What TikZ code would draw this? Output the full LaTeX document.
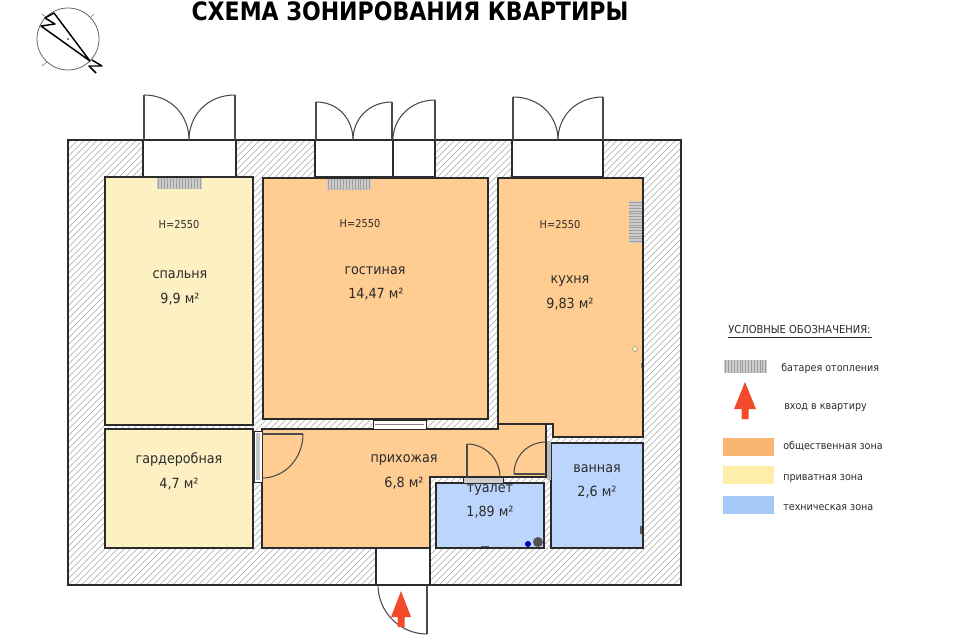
\documentclass[tikz,border=0pt]{standalone}
\usepackage{fontspec}
\setmainfont[FakeStretch=0.91]{DejaVu Sans}
\newfontfamily\titlefont[FakeStretch=0.87]{DejaVu Sans}
\usetikzlibrary{arrows.meta}
\definecolor{pub}{HTML}{FFCC91}
\definecolor{pri}{HTML}{FDF0C3}
\definecolor{tec}{HTML}{BBD5FD}
\definecolor{swpub}{HTML}{FBB573}
\definecolor{swpri}{HTML}{FFEEAA}
\definecolor{swtec}{HTML}{A4C8F7}
\definecolor{arr}{HTML}{F44A2C}
\definecolor{ink}{HTML}{2B2B2B}
\tikzset{
  x=0.75pt,y=-0.75pt,
  room/.style={draw=ink,line width=1.1pt},
  leaf/.style={draw=ink!85,line width=0.8pt},
  lab/.style={font=\fontsize{10.5pt}{12pt}\selectfont,text=ink,inner sep=0pt,anchor=base},
  small/.style={font=\fontsize{8.1pt}{9pt}\selectfont,text=ink,inner sep=0pt,anchor=base},
  leg/.style={font=\fontsize{7.9pt}{9pt}\selectfont,text=ink,inner sep=0pt,anchor=base west},
}
\newcommand{\vrad}[4]{\fill[gray!40] (#1,#2) rectangle (#3,#4);
  \foreach \k in {0,...,14}{\draw[gray!75,line width=0.35pt] ({#1+1.5+\k*(#3-#1-3)/14},#2) -- ({#1+1.5+\k*(#3-#1-3)/14},#4);}}
\newcommand{\hrad}[4]{\fill[gray!40] (#1,#2) rectangle (#3,#4);
  \foreach \k in {0,...,14}{\draw[gray!75,line width=0.35pt] (#1,{#2+1.5+\k*(#4-#2-3)/14}) -- (#3,{#2+1.5+\k*(#4-#2-3)/14});}}
\newcommand{\upar}[4]{\fill[arr] (#1,#2) -- ({#1+#3},#4) -- ({#1+3.5},#4) -- ({#1+3.5},{#4+10}) -- ({#1-3.5},{#4+10}) -- ({#1-3.5},#4) -- ({#1-#3},#4) -- cycle;}
\begin{document}
\begin{tikzpicture}
\useasboundingbox (0,0) rectangle (960,640);
\fill[white] (0,0) rectangle (960,640);
% wall hatching
\begin{scope}
\clip (68,140) rectangle (681,585);
\foreach \k in {0,...,170}{\draw[gray!70,line width=0.35pt] ({\k*6.5-380},585) -- ({\k*6.5-380+445},140);}
\end{scope}
\draw[draw=ink,line width=1.1pt] (68,140) rectangle (681,585);
% openings
\foreach \a/\b in {143/236,315/435,512/603}{\draw[fill=white,draw=ink,line width=0.9pt] (\a,140) rectangle (\b,177);}
\draw[ink,line width=0.9pt] (393,140) -- (393,177);
\draw[fill=white,draw=ink,line width=0.9pt] (376,548) rectangle (430,585);
% rooms
\draw[room,fill=pri] (105,177) rectangle (253,425);
\draw[room,fill=pri] (105,429) rectangle (253,548);
\draw[room,fill=pub] (263,178) rectangle (488,419);
\draw[room,fill=pub] (498,178) -- (643,178) -- (643,437) -- (553,437) -- (553,424) -- (498,424) -- cycle;
\draw[room,fill=pub] (262,429) -- (498,429) -- (498,424) -- (546,424) -- (546,477) -- (430,477) -- (430,548) -- (262,548) -- cycle;
\draw[room,fill=tec] (436,483) rectangle (544,548);
\draw[room,fill=tec] (551,443) rectangle (643,548);
% garderobe door
\draw[fill=white,draw=ink,line width=0.7pt] (254,431) rectangle (262,482);
\fill[gray!45] (256,433) rectangle (260,480);
\draw[leaf] (262,434) -- (303,434);
\draw[leaf] (303,434) .. controls (303,458) and (285,478) .. (262,478);
% window living/hall
\draw[fill=white,draw=ink,line width=0.7pt] (373,420) rectangle (426,429);
\draw[gray,line width=0.7pt] (375,424.5) -- (424,424.5);
% toilet door
\draw[fill=gray!40,draw=ink,line width=0.7pt] (463,477) rectangle (503,483);
\draw[leaf] (467,477) -- (467,444);
\draw[leaf] (467,444) .. controls (485,444) and (500,459) .. (500,477);
% bath door
\fill[gray!55] (546.5,441) rectangle (550.5,480);
\draw[leaf] (546,474) -- (514,474);
\draw[leaf] (514,474) .. controls (514,456) and (528,442) .. (546,442);
% exterior doors
\foreach \l/\m/\r/\t in {144/189/235/95,316/353/392/102,513/558/603/97}{
  \draw[leaf] (\l,140) -- (\l,\t);
  \draw[leaf] (\r,140) -- (\r,\t);
  \draw[leaf] (\l,\t) .. controls ({\l+(\m-\l)*0.6},\t) and (\m,{\t+(140-\t)*0.45}) .. (\m,140);
  \draw[leaf] (\r,\t) .. controls ({\r-(\r-\m)*0.6},\t) and (\m,{\t+(140-\t)*0.45}) .. (\m,140);
}
\draw[leaf] (435,140) -- (435,100);
\draw[leaf] (435,100) .. controls (411,100) and (393,118) .. (393,140);
% entrance door
\draw[leaf] (427,585) -- (427,634);
\draw[leaf] (378,585) .. controls (378,612) and (400,634) .. (427,634);
\upar{401}{591}{10}{617}
% radiators
\vrad{157}{178}{202}{189}
\vrad{327}{179}{371}{190}
\hrad{629}{201}{642}{243}
% fixtures
\fill[gray!70!black] (640,526) rectangle (641.5,534);
\draw[fill=pri,draw=gray,line width=0.3pt] (635,349) circle[radius=2.5];
\fill[gray] (640.5,363) rectangle (642,368);
\fill[blue!70!black] (528,544) circle[radius=3];
\fill[gray!65!black] (538,542) circle[radius=5];
\draw[gray!70!black,line width=0.7pt] (481,546) -- (489,546);
% labels
\node[font=\titlefont\bfseries\fontsize{19pt}{22pt}\selectfont,text=black,inner sep=0pt,anchor=base] (title) at (410,20) {СХЕМА ЗОНИРОВАНИЯ КВАРТИРЫ};
\node[small] (h1) at (179,228) {H=2550};
\node[small] (h2) at (360,227) {H=2550};
\node[small] (h3) at (560,228) {H=2550};
\node[lab] (r1) at (180,278) {спальня};
\node[lab] (a1) at (180,303) {9,9 м²};
\node[lab] (r2) at (375,274) {гостиная};
\node[lab] (a2) at (376,298) {14,47 м²};
\node[lab] (r3) at (570,283) {кухня};
\node[lab] (a3) at (570,308) {9,83 м²};
\node[lab] (r4) at (179,463) {гардеробная};
\node[lab] (a4) at (179,488) {4,7 м²};
\node[lab] (r5) at (404,462) {прихожая};
\node[lab] (a5) at (404,487) {6,8 м²};
\begin{scope}
\clip (436,483.5) rectangle (544,548);
\node[lab] (r6) at (490,492) {туалет};
\end{scope}
\node[lab] (a6) at (490,516) {1,89 м²};
\node[lab] (r7) at (597,472) {ванная};
\node[lab] (a7) at (597,496) {2,6 м²};
% compass
\draw[gray!80!black,line width=0.6pt] (68,39) circle[radius=31];
\draw[gray,line width=0.5pt] (42,14) -- (47,18) (94,14) -- (90,18) (42,66) -- (47,62);
\fill[black] (68,39) circle[radius=0.8];
\draw[black,line width=1.1pt,line join=round] (54,13) -- (90,61) -- (41,26) -- (55,24) -- (45,18) -- cycle;
\draw[black,line width=1.1pt,line join=round] (92,60) -- (102,66) -- (89,66) -- (96,73);
% legend
\node[font=\fontsize{8.2pt}{9pt}\selectfont,text=ink,inner sep=0pt,anchor=base west] (lt) at (728,333) {УСЛОВНЫЕ ОБОЗНАЧЕНИЯ:};
\coordinate (u1) at (728,337.5);
\coordinate (u2) at (872,337.5);
\draw[ink,line width=0.6pt] (u1) -- (u2);
\vrad{724}{360}{767}{373}
\upar{745}{382}{11}{409}
\fill[swpub] (723,438) rectangle (774,456);
\fill[swpri] (723,466) rectangle (774,484);
\fill[swtec] (723,496) rectangle (774,514);
\node[leg] (l1) at (781,371) {батарея отопления};
\node[leg] (l2) at (784,409) {вход в квартиру};
\node[leg] (l3) at (783,449) {общественная зона};
\node[leg] (l4) at (783,480) {приватная зона};
\node[leg] (l5) at (783,510) {техническая зона};
\end{tikzpicture}
\end{document}
